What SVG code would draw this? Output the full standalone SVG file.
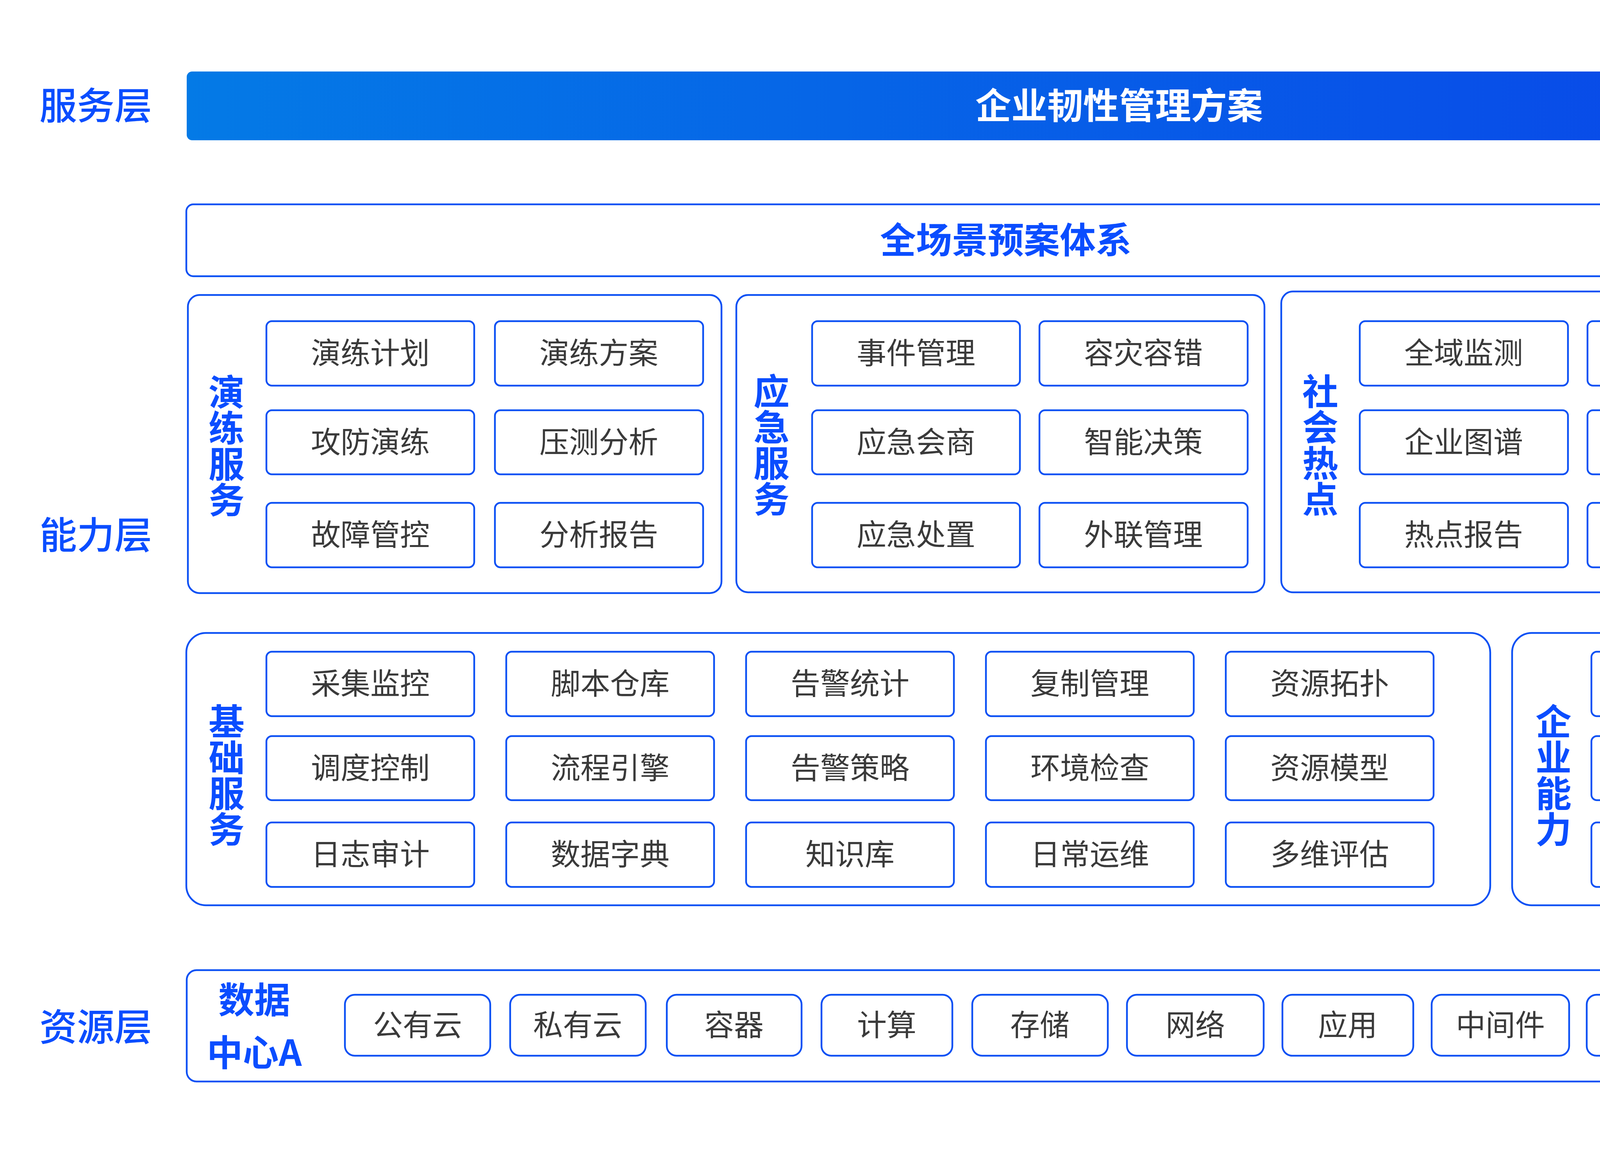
<svg xmlns="http://www.w3.org/2000/svg" width="5351" height="2951" viewBox="0 0 5351 2951">
<defs>
<linearGradient id="bannerGrad" x1="0" y1="0" x2="1" y2="0">
<stop offset="0" stop-color="#047ae6"/>
<stop offset="1" stop-color="#0a3ee9"/>
</linearGradient>
<style>
text{font-family:"Noto Sans CJK SC","Noto Sans",sans-serif}
.grp{fill:#ffffff;stroke:#0b50f4;stroke-width:4.5}
.box{fill:#ffffff;stroke:#0b50f4;stroke-width:4.5}
.it{font-size:76px;fill:#3a3a3a;text-anchor:middle;font-weight:400}
.lbl{font-size:92px;font-weight:700;fill:#0a4dff;text-anchor:middle}
.vert{writing-mode:vertical-rl;text-orientation:upright}
.layer{font-size:96px;font-weight:500;fill:#0a4dff;text-anchor:middle}
.white{fill:#ffffff}
</style>
</defs>
<rect width="5351" height="2951" fill="#ffffff"/>

<g id="layer-labels">
<text class="layer" x="245" y="305">服务层</text>
<text class="layer" x="245" y="1404">能力层</text>
<text class="layer" x="245" y="2663">资源层</text>
</g>

<g id="banner">
<rect x="478" y="183" width="4774" height="176" rx="14" fill="url(#bannerGrad)"/>
<text class="lbl white" x="2865" y="304">企业韧性管理方案</text>
</g>

<g id="plan-system">
<rect class="grp" x="477" y="523" width="4193" height="184" rx="18"/>
<text class="lbl" x="2575" y="648">全场景预案体系</text>
</g>

<g id="drill-service">
<rect class="grp" x="481" y="755" width="1366" height="763" rx="30"/>
<text class="lbl vert" x="580" y="1141">演练服务</text>
<g id="drill-plan"><rect class="box" x="682" y="822" width="532" height="165" rx="14"/><text class="it" x="948" y="931">演练计划</text></g>
<g id="drill-scheme"><rect class="box" x="1267" y="822" width="533" height="165" rx="14"/><text class="it" x="1533" y="931">演练方案</text></g>
<g id="attack-defense"><rect class="box" x="682" y="1050" width="532" height="164" rx="14"/><text class="it" x="948" y="1159">攻防演练</text></g>
<g id="stress-analysis"><rect class="box" x="1267" y="1050" width="533" height="164" rx="14"/><text class="it" x="1533" y="1159">压测分析</text></g>
<g id="fault-control"><rect class="box" x="682" y="1287" width="532" height="165" rx="14"/><text class="it" x="948" y="1396">故障管控</text></g>
<g id="analysis-report"><rect class="box" x="1267" y="1287" width="533" height="165" rx="14"/><text class="it" x="1533" y="1396">分析报告</text></g>
</g>

<g id="emergency-service">
<rect class="grp" x="1885" y="755" width="1352" height="761" rx="30"/>
<text class="lbl vert" x="1975" y="1139">应急服务</text>
<g id="event-mgmt"><rect class="box" x="2079" y="822" width="532" height="165" rx="14"/><text class="it" x="2345" y="931">事件管理</text></g>
<g id="disaster-tolerance"><rect class="box" x="2661" y="822" width="533" height="165" rx="14"/><text class="it" x="2927" y="931">容灾容错</text></g>
<g id="emergency-consult"><rect class="box" x="2079" y="1050" width="532" height="164" rx="14"/><text class="it" x="2345" y="1159">应急会商</text></g>
<g id="smart-decision"><rect class="box" x="2661" y="1050" width="533" height="164" rx="14"/><text class="it" x="2927" y="1159">智能决策</text></g>
<g id="emergency-handle"><rect class="box" x="2079" y="1287" width="532" height="165" rx="14"/><text class="it" x="2345" y="1396">应急处置</text></g>
<g id="external-mgmt"><rect class="box" x="2661" y="1287" width="533" height="165" rx="14"/><text class="it" x="2927" y="1396">外联管理</text></g>
</g>

<g id="social-hotspot">
<rect class="grp" x="3280" y="746" width="1389" height="770" rx="30"/>
<text class="lbl vert" x="3380" y="1139">社会热点</text>
<g id="global-monitor"><rect class="box" x="3481" y="822" width="533" height="165" rx="14"/><text class="it" x="3747" y="931">全域监测</text></g>
<g id="event-trace"><rect class="box" x="4064" y="822" width="533" height="165" rx="14"/><text class="it" x="4330" y="931">事件追踪</text></g>
<g id="enterprise-graph"><rect class="box" x="3481" y="1050" width="533" height="164" rx="14"/><text class="it" x="3747" y="1159">企业图谱</text></g>
<g id="trend-predict"><rect class="box" x="4064" y="1050" width="533" height="164" rx="14"/><text class="it" x="4330" y="1159">倾向预判</text></g>
<g id="hotspot-report"><rect class="box" x="3481" y="1287" width="533" height="165" rx="14"/><text class="it" x="3747" y="1396">热点报告</text></g>
<g id="hotspot-control"><rect class="box" x="4064" y="1287" width="533" height="165" rx="14"/><text class="it" x="4330" y="1396">热点管控</text></g>
</g>

<g id="mobile">
<rect class="grp" x="4706" y="523" width="546" height="995" rx="40"/>
<text class="lbl" x="4979" y="702">移动端</text>
<g id="notify-todo"><rect class="box" x="4738" y="822" width="490" height="161" rx="14"/><text class="it" x="4983" y="929">通知待办</text></g>
<g id="process-track"><rect class="box" x="4738" y="1062" width="490" height="160" rx="14"/><text class="it" x="4983" y="1169">过程跟踪</text></g>
<g id="handle-decision"><rect class="box" x="4738" y="1290" width="490" height="162" rx="14"/><text class="it" x="4983" y="1398">处置决策</text></g>
</g>

<g id="basic-service">
<rect class="grp" x="477" y="1620" width="3338" height="697" rx="50"/>
<text class="lbl vert" x="580" y="1984">基础服务</text>
<g id="collect-monitor"><rect class="box" x="682" y="1668" width="532" height="165" rx="14"/><text class="it" x="948" y="1777">采集监控</text></g>
<g id="script-repo"><rect class="box" x="1296" y="1668" width="532" height="165" rx="14"/><text class="it" x="1562" y="1777">脚本仓库</text></g>
<g id="alarm-stats"><rect class="box" x="1910" y="1668" width="532" height="165" rx="14"/><text class="it" x="2176" y="1777">告警统计</text></g>
<g id="replication-mgmt"><rect class="box" x="2524" y="1668" width="532" height="165" rx="14"/><text class="it" x="2790" y="1777">复制管理</text></g>
<g id="resource-topology"><rect class="box" x="3138" y="1668" width="532" height="165" rx="14"/><text class="it" x="3404" y="1777">资源拓扑</text></g>
<g id="schedule-control"><rect class="box" x="682" y="1884" width="532" height="164" rx="14"/><text class="it" x="948" y="1993">调度控制</text></g>
<g id="flow-engine"><rect class="box" x="1296" y="1884" width="532" height="164" rx="14"/><text class="it" x="1562" y="1993">流程引擎</text></g>
<g id="alarm-policy"><rect class="box" x="1910" y="1884" width="532" height="164" rx="14"/><text class="it" x="2176" y="1993">告警策略</text></g>
<g id="env-check"><rect class="box" x="2524" y="1884" width="532" height="164" rx="14"/><text class="it" x="2790" y="1993">环境检查</text></g>
<g id="resource-model"><rect class="box" x="3138" y="1884" width="532" height="164" rx="14"/><text class="it" x="3404" y="1993">资源模型</text></g>
<g id="log-audit"><rect class="box" x="682" y="2105" width="532" height="165" rx="14"/><text class="it" x="948" y="2214">日志审计</text></g>
<g id="data-dict"><rect class="box" x="1296" y="2105" width="532" height="165" rx="14"/><text class="it" x="1562" y="2214">数据字典</text></g>
<g id="knowledge-base"><rect class="box" x="1910" y="2105" width="532" height="165" rx="14"/><text class="it" x="2176" y="2214">知识库</text></g>
<g id="daily-ops"><rect class="box" x="2524" y="2105" width="532" height="165" rx="14"/><text class="it" x="2790" y="2214">日常运维</text></g>
<g id="multi-eval"><rect class="box" x="3138" y="2105" width="532" height="165" rx="14"/><text class="it" x="3404" y="2214">多维评估</text></g>
</g>

<g id="enterprise-capability">
<rect class="grp" x="3871" y="1620" width="1381" height="697" rx="50"/>
<text class="lbl vert" x="3977" y="1984">企业能力</text>
<g id="itsm"><rect class="box" x="4074" y="1668" width="533" height="165" rx="14"/><text class="it" x="4340" y="1777">ITSM</text></g>
<g id="portal"><rect class="box" x="4651" y="1668" width="532" height="165" rx="14"/><text class="it" x="4917" y="1777">Portal</text></g>
<g id="ad-ldap"><rect class="box" x="4074" y="1884" width="533" height="164" rx="14"/><text class="it" x="4340" y="1993">AD/Ldap</text></g>
<g id="monitor-platform"><rect class="box" x="4651" y="1884" width="532" height="164" rx="14"/><text class="it" x="4917" y="1993">监控平台</text></g>
<g id="cmdb"><rect class="box" x="4074" y="2105" width="533" height="165" rx="14"/><text class="it" x="4340" y="2214">CMDB</text></g>
<g id="sms"><rect class="box" x="4651" y="2105" width="532" height="165" rx="14"/><text class="it" x="4917" y="2214">SMS</text></g>
</g>

<g id="datacenter-a">
<rect class="grp" x="478" y="2483" width="4351" height="285" rx="25"/>
<text class="lbl"><tspan x="651" y="2593">数据</tspan><tspan x="651" y="2728">中心A</tspan></text>
<g id="public-cloud"><rect class="box" x="883" y="2546" width="372" height="156" rx="25"/><text class="it" x="1069" y="2651">公有云</text></g>
<g id="private-cloud"><rect class="box" x="1306" y="2546" width="347" height="156" rx="25"/><text class="it" x="1479" y="2651">私有云</text></g>
<g id="container"><rect class="box" x="1707" y="2546" width="345" height="156" rx="25"/><text class="it" x="1879" y="2651">容器</text></g>
<g id="compute"><rect class="box" x="2103" y="2546" width="335" height="156" rx="25"/><text class="it" x="2270" y="2651">计算</text></g>
<g id="storage"><rect class="box" x="2489" y="2546" width="347" height="156" rx="25"/><text class="it" x="2662" y="2651">存储</text></g>
<g id="network"><rect class="box" x="2885" y="2546" width="350" height="156" rx="25"/><text class="it" x="3060" y="2651">网络</text></g>
<g id="application"><rect class="box" x="3283" y="2546" width="335" height="156" rx="25"/><text class="it" x="3450" y="2651">应用</text></g>
<g id="middleware"><rect class="box" x="3665" y="2546" width="352" height="156" rx="25"/><text class="it" x="3841" y="2651">中间件</text></g>
<g id="database"><rect class="box" x="4062" y="2546" width="352" height="156" rx="25"/><text class="it" x="4238" y="2651">数据库</text></g>
<g id="power-env"><rect class="box" x="4450" y="2546" width="347" height="156" rx="25"/><text class="it" x="4623" y="2651">动环</text></g>
</g>

<g id="datacenter-b">
<rect x="4872" y="2483" width="379" height="285" rx="25" fill="#0a4dff"/>
<text class="lbl white"><tspan x="5062" y="2593">数据</tspan><tspan x="5062" y="2728">中心B</tspan></text>
</g>

<g id="connectors"/>
</svg>
